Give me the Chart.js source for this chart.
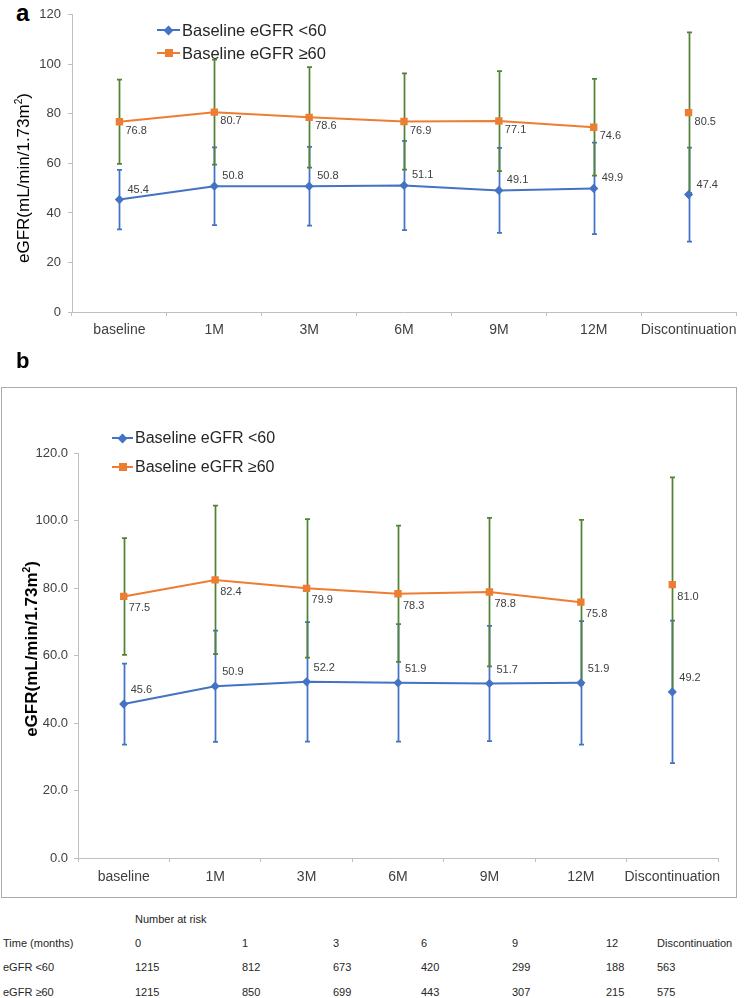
<!DOCTYPE html>
<html>
<head>
<meta charset="utf-8">
<script src="https://cdn.jsdelivr.net/npm/chart.js@4"></script>
<style>
  html, body { margin:0; padding:0; background:#fff; }
  body { width:749px; height:998px; position:relative; overflow:hidden; font-family:"Liberation Sans", Arial, sans-serif; color:#333; }
  .abs { position:absolute; white-space:nowrap; }
  .panel-label { font-weight:bold; line-height:1; color:#000; }
  .ytitle { transform:translate(-50%,-50%) rotate(-90deg); color:#000; line-height:1.2; }
  .ytitle sup { font-size:0.6em; vertical-align:0.7em; line-height:0; }
  .leg-line { position:absolute; height:2px; }
  .leg-dia { position:absolute; width:7px; height:7px; transform:rotate(45deg); }
  .leg-sq { position:absolute; width:8px; height:8px; }
  .leg-text { line-height:20px; color:#262626; }
  .tbl { font-size:11px; line-height:14px; color:#262626; }
</style>
</head>
<body>

<!-- Panel a -->
<div class="abs panel-label" style="left:16px; top:1px; font-size:24px;">a</div>
<canvas id="ca" width="749" height="345" style="position:absolute; left:0; top:0;"></canvas>
<div class="abs ytitle" style="left:23.5px; top:178px; font-size:17px;">eGFR(mL/min/1.73m<sup>2</sup>)</div>
<div id="legA"></div>

<!-- Panel b -->
<div class="abs panel-label" style="left:16px; top:350px; font-size:22px;">b</div>
<canvas id="cb" width="736" height="510" style="position:absolute; left:0; top:387px;"></canvas>
<div style="position:absolute; left:1px; top:387px; width:736px; height:511px; box-sizing:border-box; border:1px solid #ababab; pointer-events:none;"></div>
<div class="abs ytitle" style="left:32px; top:649px; font-size:17px; font-weight:bold;">eGFR(mL/min/1.73m<sup>2</sup>)</div>
<div id="legB"></div>

<!-- Number at risk table -->
<div id="risk"></div>

<script>
// ---------------- DATA ----------------
const categories = ['baseline', '1M', '3M', '6M', '9M', '12M', 'Discontinuation'];
const seriesNames = ['Baseline eGFR <60', 'Baseline eGFR \u226560'];

// Panel a (means and SD)
const aLowMean  = [45.4, 50.8, 50.8, 51.1, 49.1, 49.9, 47.4];
const aLowSD    = [12.0, 15.7, 15.9, 18.0, 17.2, 18.5, 19.0];
const aHighMean = [76.8, 80.7, 78.6, 76.9, 77.1, 74.6, 80.5];
const aHighSD   = [17.0, 21.2, 20.3, 19.4, 20.2, 19.5, 32.4];

// Panel b
const bLowMean  = [45.6, 50.9, 52.2, 51.9, 51.7, 51.9, 49.2];
const bLowSD    = [12.0, 16.5, 17.7, 17.4, 17.1, 18.3, 21.1];
const bHighMean = [77.5, 82.4, 79.9, 78.3, 78.8, 75.8, 81.0];
const bHighSD   = [17.3, 22.0, 20.5, 20.2, 22.0, 24.4, 31.8];

// Number at risk
const riskTitle = 'Number at risk';
const riskRowLabels = ['Time (months)', 'eGFR <60', 'eGFR \u226560'];
const riskTimes = ['0', '1', '3', '6', '9', '12', 'Discontinuation'];
const riskLow  = [1215, 812, 673, 420, 299, 188, 563];
const riskHigh = [1215, 850, 699, 443, 307, 215, 575];

// ---------------- STYLE ----------------
const BLUE = '#4472C4', ORANGE = '#ED7D31', GREEN = '#548235';
const AXIS = '#BFBFBF', TXT = '#404040';

Chart.defaults.font.family = '"Liberation Sans", Arial, sans-serif';
Chart.defaults.color = TXT;

const errLabelPlugin = {
  id: 'errLabel',
  beforeDatasetsDraw(chart) {
    const ctx = chart.ctx, ys = chart.scales.y;
    chart.data.datasets.forEach((ds, i) => {
      const meta = chart.getDatasetMeta(i);
      ctx.save();
      ctx.strokeStyle = ds.errColor;
      ctx.lineWidth = 1.75;
      meta.data.forEach((pt, j) => {
        const v = ds.data[j], s = ds.sd[j];
        const x = Math.round(pt.x) + 0.5;
        const yt = ys.getPixelForValue(v + s), yb = ys.getPixelForValue(v - s);
        ctx.beginPath();
        ctx.moveTo(x, yt); ctx.lineTo(x, yb);
        ctx.moveTo(x - 2.5, yt); ctx.lineTo(x + 2.5, yt);
        ctx.moveTo(x - 2.5, yb); ctx.lineTo(x + 2.5, yb);
        ctx.stroke();
      });
      ctx.restore();
    });
  },
  afterDatasetsDraw(chart, args, opts) {
    const ctx = chart.ctx;
    chart.data.datasets.forEach((ds, i) => {
      const meta = chart.getDatasetMeta(i);
      const off = opts.offsets[i];
      ctx.save();
      ctx.font = '11px "Liberation Sans", Arial, sans-serif';
      ctx.fillStyle = TXT;
      ctx.textAlign = 'left';
      ctx.textBaseline = 'middle';
      meta.data.forEach((pt, j) => {
        ctx.fillText(ds.data[j].toFixed(1), pt.x + off[0], pt.y + off[1]);
      });
      ctx.restore();
    });
  }
};

function makeChart(id, low, lowSD, high, highSD, g) {
  const lastIdx = categories.length - 1;
  const hideLast = (col) => (c) => (c.p1DataIndex === lastIdx ? 'rgba(0,0,0,0)' : col);
  return new Chart(document.getElementById(id), {
    type: 'line',
    data: {
      labels: categories,
      datasets: [
        { label: seriesNames[0], data: low, sd: lowSD, errColor: BLUE,
          borderColor: BLUE, backgroundColor: BLUE, borderWidth: 2,
          pointStyle: 'rectRot', pointRadius: 4.6, pointBorderWidth: 0,
          segment: { borderColor: hideLast(BLUE) } },
        { label: seriesNames[1], data: high, sd: highSD, errColor: GREEN,
          borderColor: ORANGE, backgroundColor: ORANGE, borderWidth: 2,
          pointStyle: 'rect', pointRadius: 5.2, pointBorderWidth: 0,
          segment: { borderColor: hideLast(ORANGE) } }
      ]
    },
    options: {
      responsive: false, animation: false, devicePixelRatio: 1, events: [],
      layout: { padding: { top: g.top, right: g.right, left: 0, bottom: 0 } },
      plugins: { legend: { display: false }, tooltip: { enabled: false },
                 errLabel: { offsets: g.offsets } },
      scales: {
        x: {
          offset: true,
          grid: { display: true, drawOnChartArea: false, drawTicks: true, tickLength: 4, color: AXIS, offset: true },
          border: { display: true, color: AXIS, width: 1 },
          ticks: { font: { size: 14 }, color: TXT, padding: g.xPad, maxRotation: 0, autoSkip: false },
          afterFit: (s) => { s.height = g.xH; }
        },
        y: {
          min: 0, max: 120,
          grid: { display: true, drawOnChartArea: false, drawTicks: true, tickLength: 4, color: AXIS },
          border: { display: true, color: AXIS, width: 1 },
          ticks: { stepSize: 20, font: { size: 13 }, color: TXT, padding: g.yPad,
                   callback: g.fmt },
          afterFit: (s) => { s.width = g.yW; }
        }
      }
    },
    plugins: [errLabelPlugin]
  });
}

makeChart('ca', aLowMean, aLowSD, aHighMean, aHighSD, {
  top: 13, right: 13, xH: 33, yW: 72, xPad: 6, yPad: 7,
  fmt: (v) => String(v),
  offsets: [[8, -10], [6, 9]]
});
makeChart('cb', bLowMean, bLowSD, bHighMean, bHighSD, {
  top: 66, right: 18, xH: 39, yW: 78, xPad: 7, yPad: 6,
  fmt: (v) => Number(v).toFixed(1),
  offsets: [[7, -14], [5, 12]]
});

// ---------------- LEGENDS (HTML) ----------------
function legend(containerId, x0, x1, textX, ys, fontSize) {
  const c = document.getElementById(containerId);
  const cols = [BLUE, ORANGE];
  ys.forEach((cy, i) => {
    const line = document.createElement('div');
    line.className = 'leg-line';
    line.style.cssText = `left:${x0}px; top:${cy - 1}px; width:${x1 - x0}px; background:${cols[i]};`;
    c.appendChild(line);
    const mk = document.createElement('div');
    const mx = (x0 + x1) / 2;
    if (i === 0) {
      mk.className = 'leg-dia';
      mk.style.cssText = `left:${mx - 3.5}px; top:${cy - 3.5}px; background:${cols[i]};`;
    } else {
      mk.className = 'leg-sq';
      mk.style.cssText = `left:${mx - 4}px; top:${cy - 4}px; background:${cols[i]};`;
    }
    c.appendChild(mk);
    const t = document.createElement('div');
    t.className = 'abs leg-text';
    t.style.cssText = `left:${textX}px; top:${cy - 10}px; font-size:${fontSize}px;`;
    t.textContent = seriesNames[i];
    c.appendChild(t);
  });
}
legend('legA', 157, 180, 182, [30, 53], 16.5);
legend('legB', 112, 133, 135, [438, 467], 16);

// ---------------- RISK TABLE ----------------
(function () {
  const c = document.getElementById('risk');
  const colX = [135, 242, 333, 421, 512, 606, 657];
  const rowY = [943, 967, 992];
  const add = (txt, x, cy) => {
    const d = document.createElement('div');
    d.className = 'abs tbl';
    d.style.cssText = `left:${x}px; top:${cy - 7}px;`;
    d.textContent = txt;
    c.appendChild(d);
  };
  add(riskTitle, colX[0], 919);
  const rows = [riskTimes, riskLow, riskHigh];
  rows.forEach((r, ri) => {
    add(riskRowLabels[ri], 3, rowY[ri]);
    r.forEach((v, ci) => add(String(v), colX[ci], rowY[ri]));
  });
})();
</script>
</body>
</html>
